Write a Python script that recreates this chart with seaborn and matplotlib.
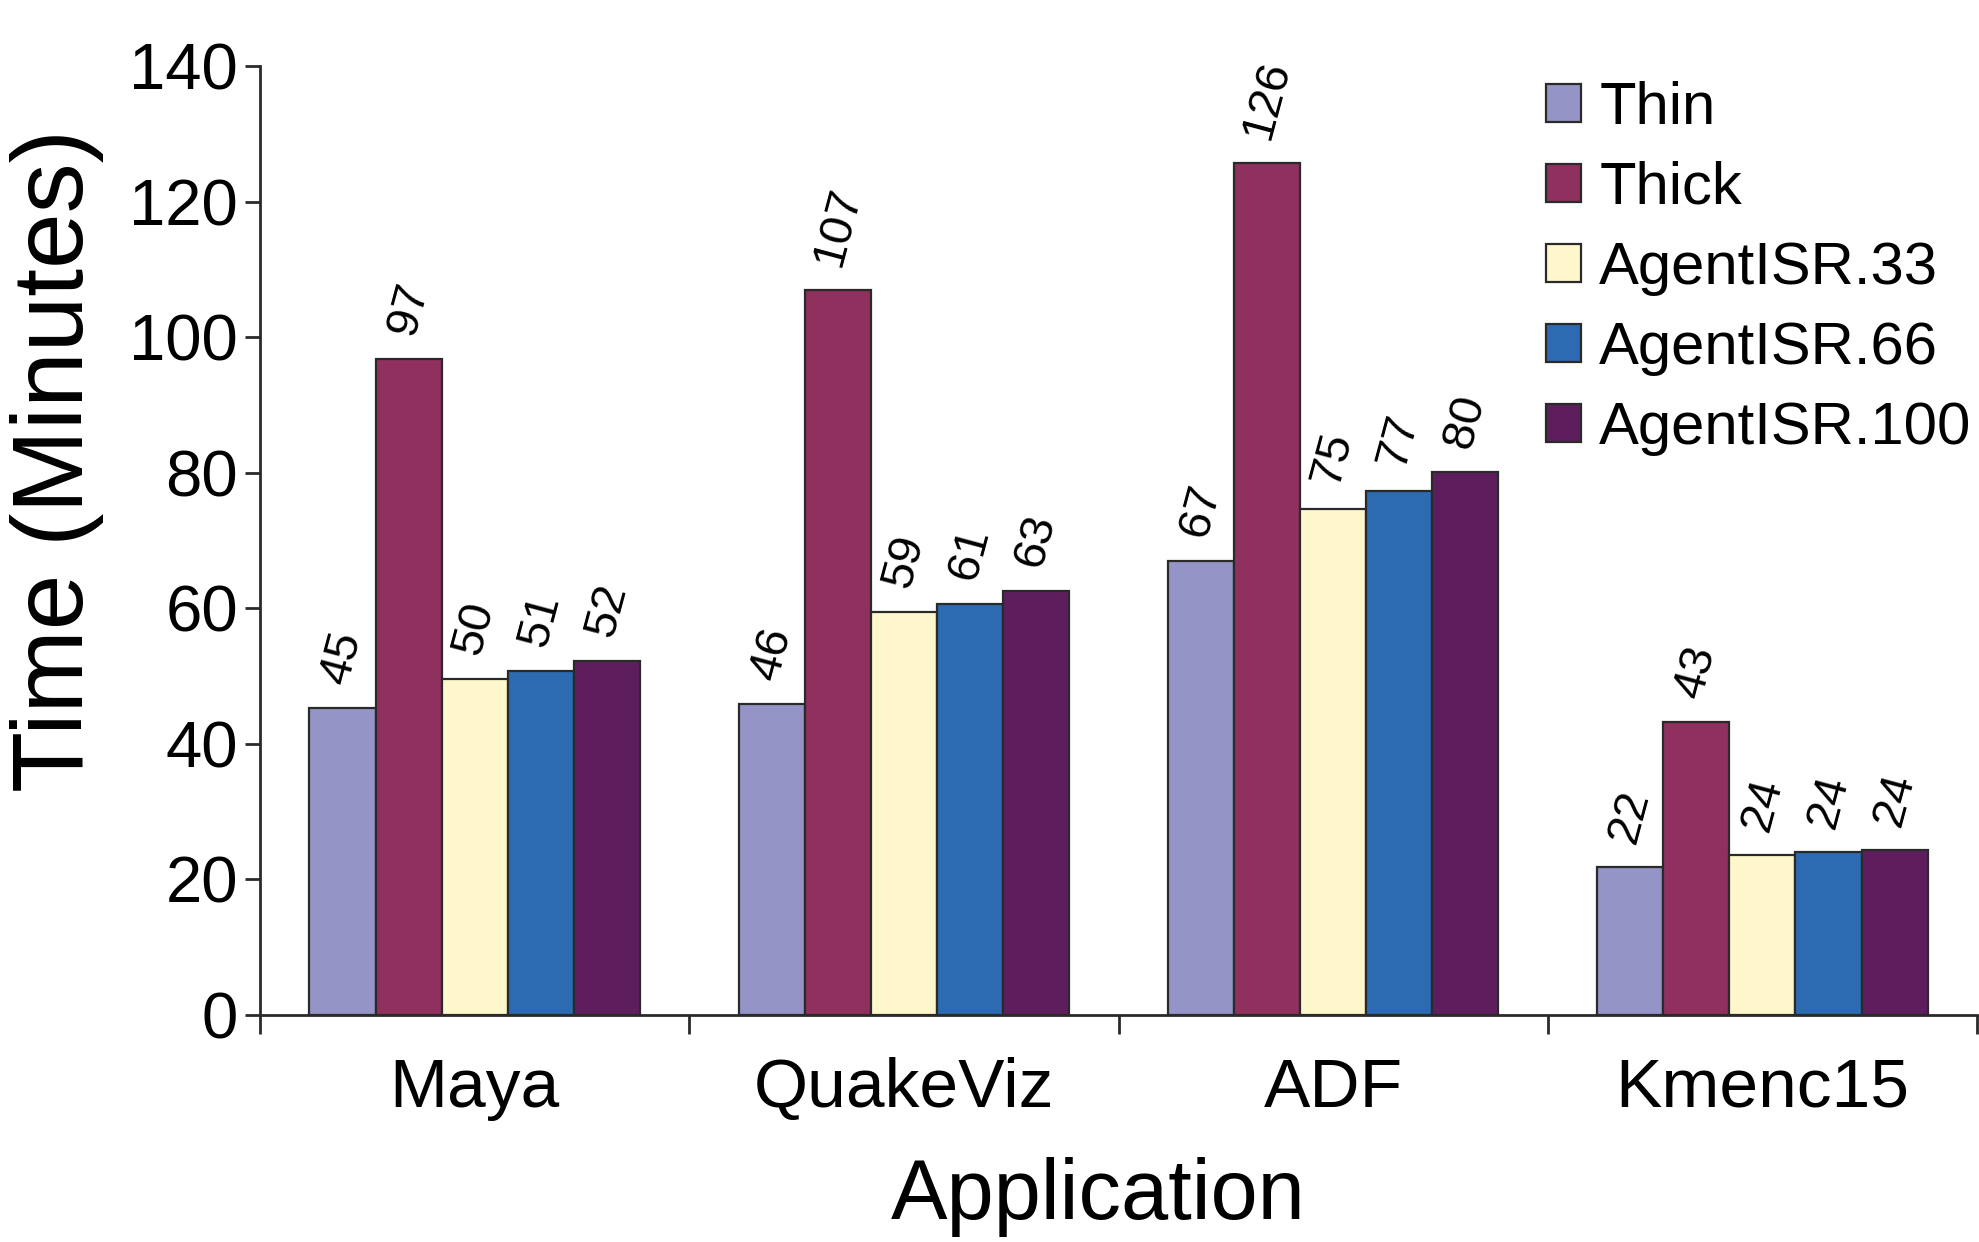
import pandas as pd
import seaborn as sns
import matplotlib.pyplot as plt

# values (minutes)
apps = ['Maya', 'QuakeViz', 'ADF', 'Kmenc15']
configs = ['Thin', 'Thick', 'AgentISR.33', 'AgentISR.66', 'AgentISR.100']
thin = [45.3, 45.8, 67.0, 21.8]
thick = [96.8, 106.9, 125.7, 43.2]
isr33 = [49.6, 59.4, 74.6, 23.6]
isr66 = [50.7, 60.6, 77.3, 24.0]
isr100 = [52.2, 62.6, 80.1, 24.4]
colors = ['#9494c6', '#8f305e', '#fff7cc', '#2c6ab2', '#5e1e5e']

series = [thin, thick, isr33, isr66, isr100]
rows = []
for cfg, vals in zip(configs, series):
    for app, v in zip(apps, vals):
        rows.append({'Application': app, 'Config': cfg, 'Time': v})
df = pd.DataFrame(rows)

sns.set_style('ticks')
plt.rcParams['font.family'] = ['Liberation Sans', 'DejaVu Sans']
plt.rcParams['text.color'] = 'black'
plt.rcParams['axes.labelcolor'] = 'black'
plt.rcParams['xtick.labelcolor'] = 'black'
plt.rcParams['ytick.labelcolor'] = 'black'

fig = plt.figure(figsize=(19.79, 12.42), dpi=100)
ax = fig.add_axes([0.1314, 0.1828, 0.8676, 0.7641])

sns.barplot(data=df, x='Application', y='Time', hue='Config', order=apps,
            hue_order=configs, palette=colors, width=0.77, edgecolor='#2a2a2a',
            linewidth=1.6, saturation=1, ax=ax)

# value labels above the bars
for cont, vals in zip(ax.containers, series):
    ax.bar_label(cont, labels=[str(int(round(v))) for v in vals], rotation=75,
                 padding=14, fontsize=34, color='black')

ax.set_xlim(-0.5, 3.5)
ax.set_ylim(0, 140)
ax.set_yticks(range(0, 141, 20))
ax.set_xticks([-0.5, 0.5, 1.5, 2.5, 3.5], minor=True)
ax.tick_params(axis='x', which='major', length=0, pad=30, labelsize=50)
ax.tick_params(axis='x', which='minor', length=14, width=2, color='#2a2a2a')
ax.tick_params(axis='y', length=11, width=2, color='#2a2a2a', pad=5, labelsize=47)
for s in ['top', 'right']:
    ax.spines[s].set_visible(False)
for s in ['left', 'bottom']:
    ax.spines[s].set_linewidth(2)
    ax.spines[s].set_color('#2a2a2a')

ax.set_xlabel('Application', fontsize=61, labelpad=26)
ax.xaxis.label.set_x(0.488)
ax.set_ylabel('Time (Minutes)', fontsize=72)
ax.yaxis.set_label_coords(-0.091, 0.584)

handles, labels = ax.get_legend_handles_labels()
ax.legend(handles, labels, loc='upper left', bbox_to_anchor=(0.781, 0.935),
          bbox_transform=fig.transFigure, frameon=False, fontsize=43,
          handlelength=0.6, handleheight=0.6, handletextpad=0.3,
          labelspacing=0.42, borderpad=0, borderaxespad=0)

plt.savefig('out.png', dpi=100)
